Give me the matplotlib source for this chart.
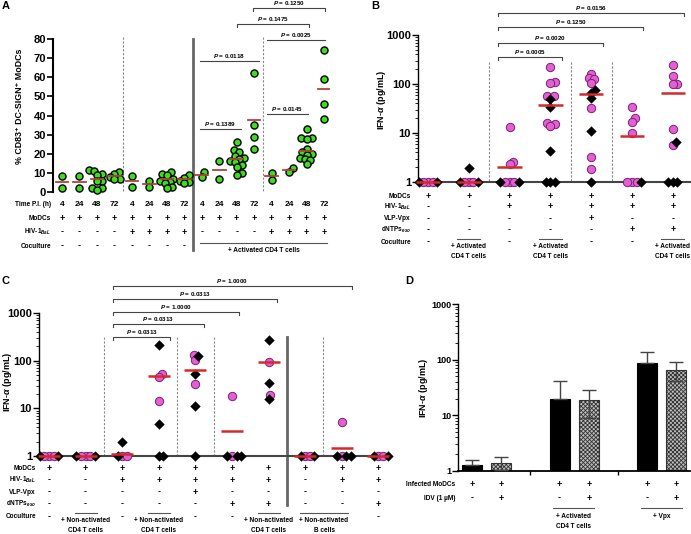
import numpy as np
import matplotlib
matplotlib.use('Agg')
import matplotlib.pyplot as plt
from matplotlib.transforms import blended_transform_factory

# ---------------- panel A : % CD83+ DC-SIGN+ MoDCs ----------------
a_time = ['4', '24', '48', '72'] * 4
a_modcs = ['+'] * 16
a_hiv = ['-'] * 4 + ['+'] * 4 + ['-'] * 4 + ['+'] * 4
a_coculture = ['-'] * 8
a_values = [
    [8.5, 2.0],
    [8.5, 2.0],
    [11.5, 11.0, 9.6, 8.7, 6.0, 5.6, 2.3, 2.3, 1.0],
    [10.4, 9.5, 7.8, 6.8, 6.6],
    [8.5, 2.8],
    [5.8, 2.5],
    [10.5, 9.5, 9.0, 7.0, 6.0, 5.0, 4.5, 2.5, 2.0],
    [8.8, 7.5, 6.0, 5.0, 4.5],
    [10.2, 7.8],
    [16.2, 7.0],
    [26, 22, 21, 19, 18, 17, 16, 15.5, 14, 13, 9.8, 9],
    [62, 35, 29, 22.5],
    [10, 6.5],
    [12.5, 10.5],
    [33, 28, 28, 27.5, 22.5, 21, 20, 19.5, 18, 17, 16.5, 14.5],
    [74, 59, 46, 38],
]
a_means = [5, 5, 6.6, 8.3, 5.8, 4.2, 6.6, 6.6, 9, 11.6, 17, 37.5, 8.5, 11.6, 21.5, 54]
a_pvals = ['0.1250', '0.1475', '0.0025', '0.0118', '0.1389', '0.0145']

# ---------------- panel B : IFN-a, activated CD4 T cells ----------------
b_modcs = ['+'] * 7
b_hiv = ['-', '-', '+', '+', '+', '+', '+']
b_vpx = ['-', '-', '-', '-', '+', '-', '-']
b_dntp = ['-', '-', '-', '-', '-', '+', '+']
b_coculture = ['-', 'act', '-', 'act', '-', '-', 'act']
b_circles = [
    [1, 1, 1],
    [1, 1, 1],
    [13.5, 2.6, 2.3, 1, 1, 1],
    [220, 112, 105, 57, 56, 16, 15, 14],
    [160, 130, 125, 107, 32, 3.3, 1.8],
    [34, 20, 17, 10, 1, 1, 1],
    [250, 145, 100, 98, 12, 5.6],
]
b_diamonds = [
    [1, 1],
    [1.9, 1, 1],
    [1, 1],
    [49, 34, 4.3, 1, 1, 1],
    [75, 65, 51, 11, 1],
    [1],
    [6.4, 1, 1, 1],
]
b_means = [1, 1, 2.0, 37, 63, 8.7, 66]
b_pvals = ['0.0005', '0.0020', '0.1250', '0.0156']

# ---------------- panel C : IFN-a, non-activated cells ----------------
c_modcs = ['+'] * 10
c_hiv = ['-', '-', '+', '+', '+', '+', '+', '-', '+', '+']
c_vpx = ['-', '-', '-', '-', '+', '-', '-', '-', '-', '-']
c_dntp = ['-', '-', '-', '-', '-', '+', '+', '-', '-', '+']
c_coculture = ['-', 'cd4', '-', 'cd4', '-', '-', 'cd4', 'b', 'b', '-']
c_circles = [
    [1, 1, 1],
    [1, 1, 1],
    [1, 1],
    [53, 46, 14],
    [130, 105, 32],
    [18, 1],
    [95, 19],
    [1, 1],
    [5.2, 1],
    [1, 1],
]
c_diamonds = [
    [1, 1],
    [1, 1],
    [2, 1],
    [210, 4.8, 1, 1],
    [125, 52, 11, 1],
    [1, 1, 1],
    [270, 34, 15.5],
    [1, 1],
    [1, 1, 1],
    [1, 1],
]
c_means = [1, 1, 1.1, 47, 63, 3.4, 93, 1, 1.5, 1]
c_pvals = ['0.0313', '0.0313', '1.0000', '0.0313', '1.0000']

# ---------------- panel D : bars ----------------
d_infected = ['+'] * 6
d_idv = ['-', '+'] * 3
d_means = [1.28, 1.4, 20, 19, 86, 66]
d_sem = [0.27, 0.36, 22, 10, 52, 24]

plt.rcParams['font.family'] = ['Liberation Sans', 'DejaVu Sans']
plt.rcParams['font.weight'] = 'bold'
plt.rcParams['mathtext.fontset'] = 'custom'
plt.rcParams['mathtext.rm'] = 'Liberation Sans:bold'
plt.rcParams['mathtext.bf'] = 'Liberation Sans:bold'
plt.rcParams['mathtext.it'] = 'Liberation Sans:italic:bold'
plt.rcParams['hatch.linewidth'] = 0.6

W, H = 691, 534
fig = plt.figure(figsize=(W / 100, H / 100), dpi=100)

GREEN = '#3ddc1e'
PINK = '#e35fd3'


def fy(py):
    return 1 - py / H


def add_ax(x0, x1, y0, y1):
    return fig.add_axes([x0 / W, 1 - y1 / H, (x1 - x0) / W, (y1 - y0) / H])


def blend(ax):
    return blended_transform_factory(ax.transData, fig.transFigure)


def swarm(vals, ypix, gap):
    # simple beeswarm, offsets in pixels
    placed, offs = [], [0.0] * len(vals)
    for i in sorted(range(len(vals)), key=lambda k: vals[k]):
        y = ypix(vals[i])
        cands = [0.0]
        for px, py in placed:
            dy = abs(y - py)
            if dy < gap:
                dx = np.sqrt(gap ** 2 - dy ** 2)
                cands += [px + dx, px - dx]
        cands.sort(key=lambda c: (round(abs(c), 4), -c))
        for c in cands:
            if all((c - px) ** 2 + (y - py) ** 2 >= gap ** 2 - 1e-6 for px, py in placed):
                break
        placed.append((c, y))
        offs[i] = c
    return np.array(offs)


def vline(ax, x, top, bottom, solid=False):
    if solid:
        ax.plot([x, x], [fy(top), fy(bottom)], transform=blend(ax), color='#666666',
                lw=2, clip_on=False, zorder=1)
    else:
        ax.plot([x, x], [fy(top), fy(bottom)], transform=blend(ax), color='#888888',
                lw=0.8, ls=(0, (2, 1.5)), clip_on=False, zorder=1)


def bracket(ax, x0, x1, py, pval, ticks=True):
    if ticks:
        xs, ys = [x0, x0, x1, x1], [fy(py + 3), fy(py), fy(py), fy(py + 3)]
    else:
        xs, ys = [x0, x1], [fy(py), fy(py)]
    ax.plot(xs, ys, transform=blend(ax), color='#444444', lw=0.8, clip_on=False)
    ax.text((x0 + x1) / 2, fy(py - 1.2), '$P$ = ' + pval, transform=blend(ax),
            ha='center', va='bottom', fontsize=4.5)


def table_row(ax, labels, py, size=6.5):
    for i, s in enumerate(labels):
        ax.text(i, fy(py), s, transform=blend(ax), ha='center', va='center',
                fontsize=size)


def cocult(ax, x0, x1, py, lines, gap=10):
    ax.plot([x0, x1], [fy(py), fy(py)], transform=blend(ax), color='#555555',
            lw=0.8, clip_on=False)
    for k, t in enumerate(lines):
        ax.text((x0 + x1) / 2, fy(py + 8 + gap * k), t, transform=blend(ax),
                ha='center', va='center', fontsize=4.7)


def log_axis(ax, size):
    ax.set_yscale('log')
    ax.set_ylim(1, 1000)
    ax.set_yticks([1, 10, 100, 1000])
    ax.set_yticklabels(['1', '10', '100', '1000'])
    ax.tick_params(axis='y', which='major', length=4, width=1, labelsize=size, pad=1)
    ax.tick_params(axis='y', which='minor', length=2, width=0.6)
    for s in ['top', 'right']:
        ax.spines[s].set_visible(False)
    ax.spines['left'].set_linewidth(1.0)


def scatter_panel(ax, circles, diamonds, means, ypix, pxu, half):
    for i in range(len(circles)):
        vals = circles[i] + diamonds[i]
        offs = swarm(vals, ypix, 4.6) / pxu
        nc = len(circles[i])
        ax.scatter(i + offs[:nc], circles[i], s=36, c=PINK, edgecolors='#7a2270',
                   linewidths=0.7, zorder=3, clip_on=False)
        ax.scatter(i + offs[nc:], diamonds[i], s=28, marker='D', c='black',
                   linewidths=0, zorder=4, clip_on=False)
        ax.plot([i - half, i + half], [means[i]] * 2, color='#d42a2a', lw=1.8,
                zorder=5, solid_capstyle='butt', clip_on=False)


def ylabel(x, y, text, size):
    fig.text(x / W, fy(y), text, rotation=90, ha='center', va='center', fontsize=size)


# ======================= panel A =======================
axA = add_ax(53, 330, 39, 192)
pxA = 17.47
for i, vals in enumerate(a_values):
    offs = swarm(vals, lambda v: -1.9125 * v, 5.2) / pxA
    axA.scatter(i + offs, vals, s=26, c=GREEN, edgecolors='black', linewidths=1.0,
                zorder=3, clip_on=False)
    axA.plot([i - 0.36, i + 0.36], [a_means[i]] * 2, color='#b5403a', lw=1.3, zorder=4)
axA.set_xlim((53 - 62) / pxA, (330 - 62) / pxA)
axA.set_ylim(0, 80)
axA.set_yticks(range(0, 81, 10))
axA.set_xticks([])
axA.tick_params(axis='y', length=4, width=1.2, labelsize=8, pad=1)
for s in ['top', 'right', 'bottom']:
    axA.spines[s].set_visible(False)
axA.spines['left'].set_linewidth(1.5)
ylabel(20, 106, '% CD83⁺ DC-SIGN⁺ MoDCs', 6.4)
vline(axA, 3.5, 37, 192)
vline(axA, 11.5, 37, 192)
vline(axA, 7.5, 39, 250, solid=True)
bracket(axA, 10.93, 15.05, 8, a_pvals[0])
bracket(axA, 10.02, 14.14, 24, a_pvals[1])
bracket(axA, 11.73, 15.05, 40, a_pvals[2], ticks=False)
bracket(axA, 7.9, 11.28, 61, a_pvals[3], ticks=False)
bracket(axA, 7.9, 10.25, 129, a_pvals[4], ticks=False)
bracket(axA, 11.73, 14.08, 114, a_pvals[5], ticks=False)
table_row(axA, a_time, 204, 6)
table_row(axA, a_modcs, 218)
table_row(axA, a_hiv, 232)
table_row(axA, a_coculture, 246)
cocult(axA, 7.9, 15.17, 243, ['+ Activated CD4 T cells'])
for py, lab in [(204, 'Time P.I. (h)'), (218, 'MoDCs'), (232, 'HIV-1$_{BaL}$'),
                (246, 'Coculture')]:
    fig.text(51 / W, fy(py), lab, ha='right', va='center', fontsize=4.7)

# ======================= panel B =======================
axB = add_ax(418, 690, 35, 182)
pxB = 40.8
log_axis(axB, 8)
axB.set_xlim((418 - 428) / pxB, (690 - 428) / pxB)
axB.set_xticks([])
axB.spines['bottom'].set_linewidth(1.5)
axB.spines['bottom'].set_color('#444444')
scatter_panel(axB, b_circles, b_diamonds, b_means, lambda v: -49 * np.log10(v), pxB, 0.3)
ylabel(382, 100, 'IFN-$\\alpha$ (pg/mL)', 6.5)
for x in [1.5, 3.5, 4.5]:
    vline(axB, x, 62, 182)
for k, (xr, py) in enumerate([(3.28, 57), (4.28, 43), (5.28, 27), (6.28, 13)]):
    bracket(axB, 1.72, xr, py, b_pvals[k])
table_row(axB, b_modcs, 197)
table_row(axB, b_hiv, 207)
table_row(axB, b_vpx, 219)
table_row(axB, b_dntp, 230)
for i, c in enumerate(b_coculture):
    if c == '-':
        axB.text(i, fy(242), '-', transform=blend(axB), ha='center', va='center', fontsize=6.5)
    else:
        cocult(axB, i - 0.28, i + 0.28, 239, ['+ Activated', 'CD4 T cells'])
for py, lab in [(197, 'MoDCs'), (207, 'HIV-1$_{BaL}$'), (219, 'VLP-Vpx'),
                (230, 'dNTPs$_{exo}$'), (242, 'Coculture')]:
    fig.text(411 / W, fy(py), lab, ha='right', va='center', fontsize=4.7)

# ======================= panel C =======================
axC = add_ax(39, 388, 313, 456)
pxC = 36.6
log_axis(axC, 8)
axC.set_xlim((39 - 49) / pxC, (388 - 49) / pxC)
axC.set_xticks([])
axC.spines['bottom'].set_linewidth(1.5)
axC.spines['bottom'].set_color('#444444')
scatter_panel(axC, c_circles, c_diamonds, c_means, lambda v: -47.7 * np.log10(v), pxC, 0.3)
ylabel(8, 382, 'IFN-$\\alpha$ (pg/mL)', 6.5)
for x in [1.5, 3.5, 4.5, 7.5]:
    vline(axC, x, 337, 456)
vline(axC, 6.5, 337, 505, solid=True)
for k, (xr, py) in enumerate([(3.31, 337), (4.23, 324), (5.19, 312), (6.23, 299), (8.28, 286)]):
    bracket(axC, 1.75, xr, py, c_pvals[k])
table_row(axC, c_modcs, 468)
table_row(axC, c_hiv, 480)
table_row(axC, c_vpx, 492)
table_row(axC, c_dntp, 504)
for i, c in enumerate(c_coculture):
    if c == '-':
        axC.text(i, fy(517), '-', transform=blend(axC), ha='center', va='center', fontsize=6.5)
    elif c == 'cd4':
        cocult(axC, i - 0.3, i + 0.3, 513, ['+ Non-activated', 'CD4 T cells'])
cocult(axC, 6.86, 8.17, 513, ['+ Non-activated', 'B cells'])
for py, lab in [(468, 'MoDCs'), (480, 'HIV-1$_{BaL}$'), (492, 'VLP-Vpx'),
                (504, 'dNTPs$_{exo}$'), (517, 'Coculture')]:
    fig.text(36 / W, fy(py), lab, ha='right', va='center', fontsize=4.7)

# ======================= panel D =======================
axD = add_ax(458, 690, 304, 471)
pxD = 29.2
log_axis(axD, 6.5)
axD.set_xlim((458 - 472) / pxD, (690 - 472) / pxD)
xd = np.array([3 * (i // 2) + i % 2 for i in range(len(d_means))])
hatched = np.array([i % 2 == 1 for i in range(len(d_means))])
means = np.array(d_means)
sem = np.array(d_sem)
for x, m, h in zip(xd, means, hatched):
    if h:
        axD.bar(x, m - 1, bottom=1, width=0.68, color='#bdbdbd', edgecolor='#333333',
                hatch='xxxxxxxx', linewidth=0.8, zorder=2)
    else:
        axD.bar(x, m - 1, bottom=1, width=0.68, color='black', edgecolor='black',
                linewidth=0.8, zorder=2)
axD.errorbar(xd, means, yerr=[np.where(hatched, sem, 0), sem], fmt='none',
             ecolor='#444444', elinewidth=1, capsize=5, capthick=1, zorder=3)
axD.set_xticks([2, 5])
axD.set_xticklabels([])
axD.tick_params(axis='x', length=3, width=1)
axD.spines['bottom'].set_linewidth(1.3)
ylabel(424, 388, 'IFN-$\\alpha$ (pg/mL)', 6.5)
for x, s in zip(xd, d_infected):
    axD.text(x, fy(484), s, transform=blend(axD), ha='center', va='center', fontsize=6.5)
for x, s in zip(xd, d_idv):
    axD.text(x, fy(498), s, transform=blend(axD), ha='center', va='center', fontsize=6.5)
cocult(axD, 2.77, 4.18, 508, ['+ Activated', 'CD4 T cells'])
cocult(axD, 5.79, 7.19, 508, ['+ Vpx'])
fig.text(455 / W, fy(484), 'Infected MoDCs', ha='right', va='center', fontsize=4.7)
fig.text(455 / W, fy(498), 'IDV (1 µM)', ha='right', va='center', fontsize=4.7)

# panel letters
for x, y, t in [(2, 6, 'A'), (371, 6, 'B'), (2, 281, 'C'), (405, 281, 'D')]:
    fig.text(x / W, fy(y), t, ha='left', va='center', fontsize=8)

fig.savefig('out.png', dpi=100)
